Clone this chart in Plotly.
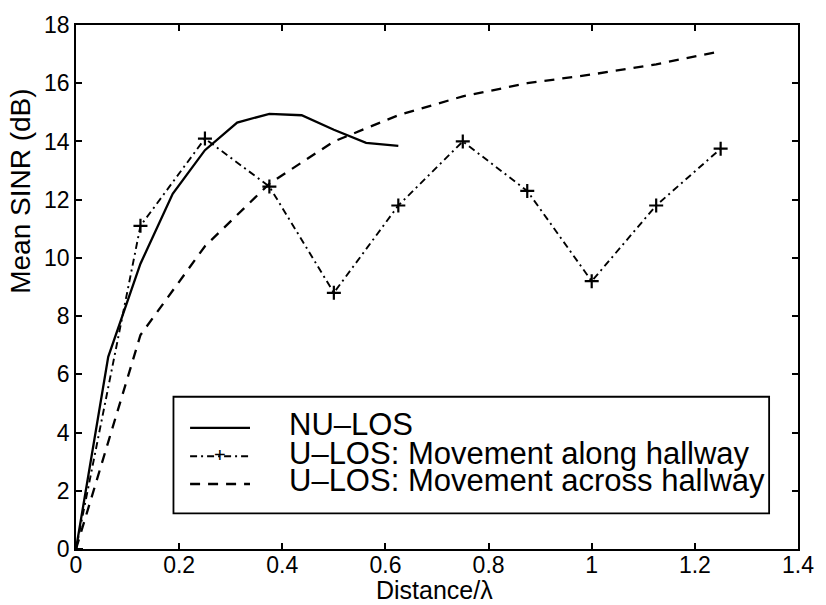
import plotly.graph_objects as go

# Distance in wavelengths
x_nu = [0, 0.0625, 0.125, 0.1875, 0.25, 0.3125, 0.375, 0.4375, 0.5, 0.5625, 0.625]
x_u = [0, 0.125, 0.25, 0.375, 0.5, 0.625, 0.75, 0.875, 1.0, 1.125, 1.25]

# Mean SINR (dB)
sinr_nu_los = [0, 6.6, 9.8, 12.2, 13.7, 14.65, 14.95, 14.9, 14.4, 13.95, 13.85]
sinr_along = [0, 11.1, 14.1, 12.45, 8.8, 11.8, 14.0, 12.3, 9.2, 11.8, 13.75]
sinr_across = [0, 7.35, 10.4, 12.55, 14.0, 14.9, 15.55, 16.0, 16.3, 16.65, 17.1]

x_ticks = [0, 0.2, 0.4, 0.6, 0.8, 1, 1.2, 1.4]
y_ticks = [0, 2, 4, 6, 8, 10, 12, 14, 16, 18]

legend_labels = [
    "NU\u2013LOS",
    "U\u2013LOS: Movement along hallway",
    "U\u2013LOS: Movement across hallway",
]

FONT = "Liberation Sans, Arial, Helvetica, sans-serif"
DASHDOT = "7px,4px,2px,4px"
DASHED = "10px,8px"

fig = go.Figure()
fig.add_trace(go.Scatter(x=x_nu, y=sinr_nu_los, mode="lines",
                         line=dict(color="black", width=2.3)))
fig.add_trace(go.Scatter(x=x_u, y=sinr_along, mode="lines+markers",
                         line=dict(color="black", width=1.9, dash=DASHDOT),
                         marker=dict(symbol="cross-thin", size=10,
                                     line=dict(color="black", width=2.2))))
fig.add_trace(go.Scatter(x=x_u, y=sinr_across, mode="lines",
                         line=dict(color="black", width=2.3, dash=DASHED)))

# Boxed legend drawn in paper coordinates
box = dict(x0=0.135, x1=0.960, y0=0.068, y1=0.2906)
rows_y = [0.237, 0.183, 0.130]
seg_x0, seg_x1 = 0.158, 0.241
text_x = 0.2916

shapes = [dict(type="rect", xref="paper", yref="paper", **box,
               line=dict(color="black", width=1.8), fillcolor="white", layer="above")]
styles = [dict(dash="solid", width=2.3), dict(dash=DASHDOT, width=1.9), dict(dash=DASHED, width=2.3)]
for yy, st in zip(rows_y, styles):
    shapes.append(dict(type="line", xref="paper", yref="paper", x0=seg_x0, x1=seg_x1,
                       y0=yy - 0.006, y1=yy - 0.006, layer="above",
                       line=dict(color="black", width=st["width"], dash=st["dash"])))

annotations = []
for yy, label in zip(rows_y, legend_labels):
    annotations.append(dict(xref="paper", yref="paper", x=text_x, y=yy, text=label,
                            showarrow=False, xanchor="left", yanchor="middle",
                            font=dict(family=FONT, size=31, color="black")))
# "+" marker on the dash-dot legend sample
annotations.append(dict(xref="paper", yref="paper", x=(seg_x0 + seg_x1) / 2,
                        y=rows_y[1] - 0.004, text="+", showarrow=False,
                        xanchor="center", yanchor="middle",
                        font=dict(family=FONT, size=20, color="black")))

# Axis titles
annotations.append(dict(xref="paper", yref="paper", x=0.496, y=-0.0775,
                        text="Distance/\u03bb", showarrow=False,
                        xanchor="center", yanchor="middle",
                        font=dict(family=FONT, size=25, color="black")))
annotations.append(dict(xref="paper", yref="paper", x=-0.078, y=0.683,
                        text="Mean SINR (dB)", showarrow=False, textangle=-90,
                        xanchor="center", yanchor="middle",
                        font=dict(family=FONT, size=28, color="black")))

axis_common = dict(showgrid=False, zeroline=False, showline=True, linecolor="black",
                   linewidth=1.8, mirror="ticks", ticks="inside", ticklen=6,
                   tickwidth=1.5, tickcolor="black", ticklabeloverflow="allow",
                   tickfont=dict(family=FONT, size=23, color="black"))

fig.update_layout(
    width=826, height=605,
    margin=dict(l=76, r=16, t=19, b=56),
    plot_bgcolor="white", paper_bgcolor="white",
    showlegend=False,
    shapes=shapes, annotations=annotations,
    xaxis=dict(range=[0, 1.4], tickvals=x_ticks, ticklabelstandoff=-6,
               ticktext=[f"{v:g}" for v in x_ticks], **axis_common),
    yaxis=dict(range=[0, 18], tickvals=y_ticks,
               ticktext=[f"{v:g}" for v in y_ticks], **axis_common),
)

fig.write_html("out.html")
